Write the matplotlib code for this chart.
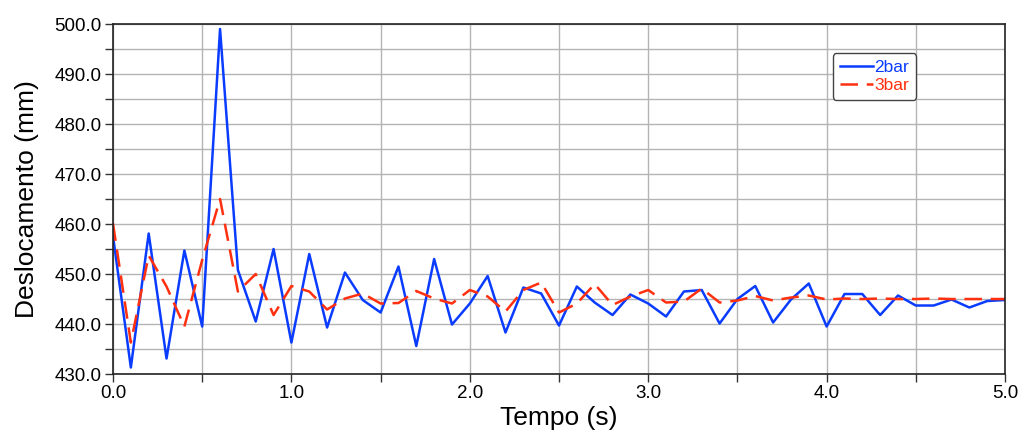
import matplotlib.pyplot as plt
import numpy as np
from matplotlib.ticker import MultipleLocator, FormatStrFormatter

plt.rcParams['font.family'] = ['Liberation Sans', 'DejaVu Sans']

# tempo (s), passo de 0.1
tempo = np.round(np.arange(0, 5.01, 0.1), 1)

desloc_2bar = [457.6, 431.3, 458.1, 433.1, 454.7, 439.5, 499.0, 450.8, 440.5, 455.0,
               436.3, 454.0, 439.3, 450.3, 444.8, 442.3, 451.5, 435.6, 453.0, 439.9,
               444.1, 449.6, 438.3, 447.3, 446.1, 439.7, 447.5, 444.3, 441.8, 445.9,
               444.1, 441.5, 446.5, 446.8, 440.1, 445.0, 447.6, 440.3, 444.9, 448.1,
               439.5, 446.0, 446.0, 441.8, 445.7, 443.7, 443.7, 444.9, 443.3, 444.6,
               444.8]

desloc_3bar = [460.1, 436.3, 453.7, 447.5, 439.5, 452.8, 465.0, 446.5, 450.0, 441.8,
               447.6, 446.5, 442.9, 445.1, 446.1, 444.1, 444.2, 446.6, 445.1, 444.1,
               446.8, 445.5, 442.5, 446.8, 448.3, 442.3, 444.1, 448.0, 443.8, 445.5,
               446.8, 444.3, 444.5, 447.1, 444.3, 444.7, 445.6, 444.7, 445.3, 445.7,
               444.9, 445.1, 445.0, 445.1, 445.0, 445.0, 445.1, 445.0, 445.0, 445.0,
               445.0]

fig = plt.figure(figsize=(10.19, 4.34), dpi=100)
ax = fig.add_axes([0.1109, 0.1382, 0.8754, 0.8065])

ax.plot(tempo, desloc_2bar, color='#0a3cff', linewidth=1.8, label='2bar')
ax.plot(tempo, desloc_3bar, color='#ff3010', linewidth=1.8, linestyle=(0, (7, 3.5)), label='3bar')

ax.set_xlim(0, 5)
ax.set_ylim(430, 500)
ax.xaxis.set_major_locator(MultipleLocator(1.0))
ax.xaxis.set_minor_locator(MultipleLocator(0.5))
ax.yaxis.set_major_locator(MultipleLocator(10))
ax.yaxis.set_minor_locator(MultipleLocator(5))
ax.xaxis.set_major_formatter(FormatStrFormatter('%.1f'))
ax.yaxis.set_major_formatter(FormatStrFormatter('%.1f'))

ax.grid(True, which='both', color='#b4b4b4', linewidth=1)
ax.set_axisbelow(True)
ax.tick_params(which='both', direction='out', length=6, width=1, color='#333333')
ax.tick_params(which='major', labelsize=13.5, pad=2)
for s in ax.spines.values():
    s.set_color('#222222')
    s.set_linewidth(1.2)

ax.set_xlabel('Tempo (s)', fontsize=19, labelpad=3)
ax.set_ylabel('Deslocamento (mm)', fontsize=19, labelpad=11)

leg = ax.legend(loc='upper left', bbox_to_anchor=(0.807, 0.917), borderaxespad=0,
                fontsize=12.5, handlelength=1.9, handletextpad=0.1, borderpad=0.4,
                labelspacing=0.15, fancybox=True, framealpha=1,
                edgecolor='#444444')
leg.get_frame().set_linewidth(1.0)
for t, c in zip(leg.get_texts(), ['#0a3cff', '#ff3010']):
    t.set_color(c)

plt.savefig('out.png', dpi=100)
